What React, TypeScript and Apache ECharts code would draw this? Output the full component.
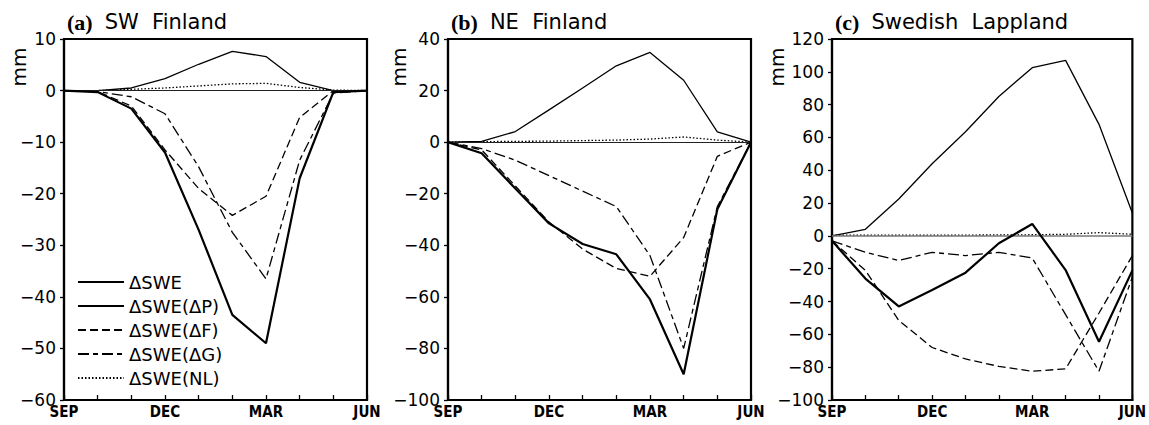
import React, { useEffect, useRef } from "react";
import * as echarts from "echarts";

const months = ["SEP", "OCT", "NOV", "DEC", "JAN", "FEB", "MAR", "APR", "MAY", "JUN"];
const seriesNames = ["ΔSWE", "ΔSWE(ΔP)", "ΔSWE(ΔF)", "ΔSWE(ΔG)", "ΔSWE(NL)"];

// (a) SW Finland
const swSWE = [0, -0.3, -3.5, -12, -27, -43.5, -49, -17, -0.3, 0];
const swP = [0, 0, 0.5, 2.3, 5.1, 7.6, 6.6, 1.6, 0, 0];
const swF = [0, -0.2, -3, -11.5, -19, -24.2, -20.5, -5.2, 0, 0];
const swG = [0, -0.2, -1.2, -4.5, -14.8, -27.5, -36.5, -13.5, -0.5, 0];
const swNL = [0, 0, 0.25, 0.5, 0.9, 1.3, 1.4, 0.6, 0.1, 0];

// (b) NE Finland
const neSWE = [0, -4.3, -18, -31.5, -39.5, -43.5, -61, -90, -26, 0];
const neP = [0, 0.3, 4.1, 12.5, 21, 29.6, 34.8, 24, 4, 0];
const neF = [0, -3, -17, -31, -41.5, -49, -52, -37, -5.5, 0];
const neG = [0, -2.5, -7, -13, -19, -25, -44, -80, -25, 0];
const neNL = [0, 0.2, 0.3, 0.4, 0.6, 0.8, 1.2, 2.0, 0.8, 0];

// (c) Swedish Lappland
const slSWE = [-3, -26, -43, -33, -22.4, -4.5, 7.3, -20.8, -64.5, -21];
const slP = [0, 4, 22.5, 44, 63.5, 85, 102.5, 107, 68, 14];
const slF = [-3, -21, -51.5, -68, -75, -79.5, -82.5, -81, -47, -12];
const slG = [-3, -10, -15, -10, -12, -10, -13.5, -48, -82.5, -25];
const slNL = [0.5, 0.5, 0.5, 0.5, 0.5, 0.6, 0.7, 1, 2, 1];

const panels = [
  { letter: "(a)", name: "SW  Finland", min: -60, max: 10, interval: 10, data: [swSWE, swP, swF, swG, swNL] },
  { letter: "(b)", name: "NE  Finland", min: -100, max: 40, interval: 20, data: [neSWE, neP, neF, neG, neNL] },
  { letter: "(c)", name: "Swedish  Lappland", min: -100, max: 120, interval: 20, data: [slSWE, slP, slF, slG, slNL] },
];

const gridLefts = [64, 448, 832];
const gridWidth = 303;
const gridTop = 39;
const gridHeight = 361;

const lineStyles: any[] = [
  { color: "#000", width: 2.2, type: "solid" },
  { color: "#000", width: 1.3, type: "solid" },
  { color: "#000", width: 1.3, type: [8, 4] },
  { color: "#000", width: 1.3, type: [11, 4, 5, 4] },
  { color: "#000", width: 1.3, type: [1.5, 2] },
];

const sansFont = "'DejaVu Sans', sans-serif";

export default function App() {
  const ref = useRef<HTMLDivElement>(null);
  useEffect(() => {
    document.body.style.margin = "0";
    if (!ref.current) return;
    const chart = echarts.init(ref.current, undefined, { renderer: "svg" });

    const grids = panels.map((_, i) => ({
      left: gridLefts[i],
      top: gridTop,
      width: gridWidth,
      height: gridHeight,
      show: true,
      borderColor: "#000",
      borderWidth: 2.2,
      containLabel: false,
    }));

    const xAxes = panels.map((_, i) => ({
      type: "category",
      gridIndex: i,
      data: months,
      boundaryGap: false,
      axisLine: { show: true, onZero: false, lineStyle: { color: "#000", width: 2.2 } },
      axisTick: { show: true, inside: true, length: 5, interval: 0, lineStyle: { color: "#000", width: 1.3 } },
      axisLabel: {
        interval: (idx: number) => idx % 3 === 0,
        margin: 4,
        color: "#000",
        fontSize: 15,
        fontWeight: "bold",
        fontFamily: "'Liberation Sans Narrow', 'DejaVu Sans Condensed', sans-serif",
      },
      splitLine: { show: false },
    }));

    const yAxes = panels.map((p, i) => ({
      type: "value",
      gridIndex: i,
      min: p.min,
      max: p.max,
      interval: p.interval,
      axisLine: { show: true, onZero: false, lineStyle: { color: "#000", width: 2.2 } },
      axisTick: { show: true, inside: false, length: 4, lineStyle: { color: "#000", width: 1.3 } },
      axisLabel: {
        margin: 8,
        color: "#000",
        fontSize: 17,
        fontFamily: sansFont,
        formatter: (v: number) => String(v).replace("-", "\u2212"),
      },
      splitLine: { show: false },
    }));

    const series: any[] = [];
    panels.forEach((p, i) => {
      p.data.forEach((arr, k) => {
        const s: any = {
          type: "line",
          name: seriesNames[k],
          xAxisIndex: i,
          yAxisIndex: i,
          data: arr,
          symbol: "none",
          lineStyle: lineStyles[k],
          itemStyle: { color: "#000" },
          z: k === 0 ? 5 : 3,
        };
        if (k === 1) {
          s.markLine = {
            silent: true,
            symbol: "none",
            label: { show: false },
            lineStyle: { color: i === 2 ? "#777" : "#222", width: i === 2 ? 1.6 : 1, type: "solid" },
            data: [{ yAxis: 0 }],
          };
        }
        series.push(s);
      });
    });

    const titles = panels.map((p, i) => ({
      left: gridLefts[i] - 2,
      top: 6,
      text: `{b|${p.letter}}{n|${p.name}}`,
      textStyle: {
        fontWeight: "normal",
        rich: {
          b: { fontFamily: "'Liberation Serif', serif", fontWeight: "bold", fontSize: 22, color: "#000" },
          n: { fontFamily: sansFont, fontWeight: "normal", fontSize: 21, color: "#000", padding: [0, 0, 0, 12] },
        },
      },
    }));

    const mmX = [18.5, 398.5, 777];
    const graphic = mmX.map((x) => ({
      type: "text",
      x,
      y: 67,
      rotation: Math.PI / 2,
      style: {
        text: "mm",
        fontFamily: sansFont,
        fontSize: 20,
        fill: "#000",
        textAlign: "center",
        textVerticalAlign: "middle",
      },
    }));

    chart.setOption({
      animation: false,
      backgroundColor: "#fff",
      title: titles,
      grid: grids,
      xAxis: xAxes,
      yAxis: yAxes,
      graphic,
      legend: {
        data: seriesNames,
        orient: "vertical",
        left: 72,
        top: 268,
        itemWidth: 46,
        itemHeight: 12,
        itemGap: 6,
        selectedMode: false,
        itemStyle: { opacity: 0 },
        textStyle: { color: "#000", fontSize: 18, lineHeight: 18, fontFamily: sansFont },
      },
      series,
    });
    return () => chart.dispose();
  }, []);
  return <div ref={ref} style={{ width: 1149, height: 425 }} />;
}
